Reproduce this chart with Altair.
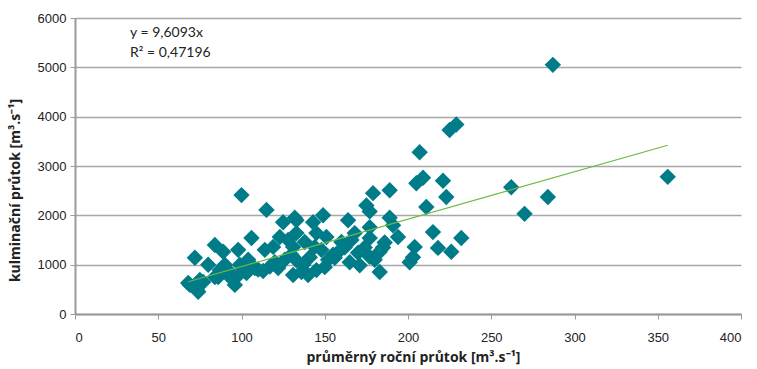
import altair as alt
import pandas as pd

# mean annual discharge [m3/s] and culmination discharge [m3/s]
prumer = [
    287, 229, 225, 207, 356, 262, 284, 270, 221, 209, 205, 223, 211, 215, 232, 218, 226, 204, 203, 201,
    189, 179, 175, 177, 189, 191, 194, 177, 177, 168, 164, 160, 170, 177, 183, 171, 183, 185,
    149, 143, 133, 125, 132, 145, 151, 133, 138, 144, 148, 156, 131, 133, 145, 140, 131,
    100, 115, 106, 84, 72, 98, 114, 119, 123, 128, 89, 108, 117, 122, 87, 84, 93, 68, 75, 73,
    97, 103, 69, 74, 77, 86, 93, 96, 99, 104, 110, 126, 130, 137, 141, 152, 158, 162, 166, 155,
    165, 174, 180, 186, 113, 120, 136, 150, 90, 80,
]
kulminace = [
    5050, 3840, 3730, 3280, 2780, 2570, 2370, 2030, 2700, 2760, 2650, 2370, 2170, 1660, 1540, 1340, 1260, 1360, 1150, 1050,
    2510, 2450, 2200, 2080, 1950, 1800, 1560, 1760, 1540, 1640, 1900, 1460, 1240, 1160, 1260, 990, 850, 1350,
    2000, 1860, 1900, 1860, 1950, 1640, 1560, 1640, 1460, 1360, 1300, 1140, 1360, 1090, 890, 790, 790,
    2410, 2110, 1540, 1400, 1140, 1300, 1300, 1360, 1560, 1500, 1260, 930, 960, 930, 890, 750, 750, 630, 690, 500,
    750, 830, 590, 450, 650, 750, 850, 590, 1000, 1100, 900, 1100, 1200, 1000, 1150, 1100, 1250, 1350, 1500, 1200,
    1050, 1350, 1100, 1450, 870, 1050, 850, 950, 1000, 1000,
]

slope = 9.6093
equation = ["y = 9,6093x", "R² = 0,47196"]

df = pd.DataFrame({"x": prumer, "y": kulminace})
x_lo, x_hi = min(prumer), max(prumer)
trend = pd.DataFrame({"x": [x_lo, x_hi], "y": [slope * x_lo, slope * x_hi]})

teal = "#007C89"
x_title = "průměrný roční průtok [m³.s⁻¹]"
y_title = "kulminační průtok [m³.s⁻¹]"

x_scale = alt.Scale(domain=[0, 400], nice=False)
y_scale = alt.Scale(domain=[0, 6000], nice=False)

x_axis = alt.Axis(
    values=list(range(0, 401, 50)), title=x_title, grid=False, format="d",
    titleFont="Open Sans", titleFontWeight="bold", titleFontSize=14, titleColor="#222222",
    titleX=338, titleY=43, titleBaseline="middle",
    labelFont="Liberation Sans", labelFontSize=13, labelColor="#222222", labelPadding=12,
    domainColor="#9A9A9A", domainWidth=2, tickColor="#9A9A9A", tickSize=5,
)
y_axis = alt.Axis(
    values=list(range(0, 6001, 1000)), title=y_title, format="d",
    gridColor="#A8A8A8", gridWidth=1.5,
    titleFont="Open Sans", titleFontWeight="bold", titleFontSize=14, titleColor="#222222",
    titleX=-60, titleY=172, titleAngle=-90, titleAlign="center", titleBaseline="middle",
    labelFont="Liberation Sans", labelFontSize=13, labelColor="#222222", labelPadding=4,
    domainColor="#9A9A9A", domainWidth=2, tickColor="#9A9A9A", tickSize=5,
)

points = alt.Chart(df).mark_point(
    shape="diamond", filled=True, size=270, color=teal, opacity=1
).encode(
    x=alt.X("x:Q", scale=x_scale, axis=x_axis),
    y=alt.Y("y:Q", scale=y_scale, axis=y_axis),
)

line = alt.Chart(trend).mark_line(color="#6DBA45", strokeWidth=1.2).encode(
    x=alt.X("x:Q", scale=x_scale),
    y=alt.Y("y:Q", scale=y_scale),
)


def eq_label(text, ypos):
    return alt.Chart(pd.DataFrame({"t": [text]})).mark_text(
        align="left", baseline="middle", font="Lato", fontSize=14, color="#222222"
    ).encode(text="t:N", x=alt.value(55), y=alt.value(ypos))


chart = alt.layer(
    points, line, eq_label(equation[0], 15), eq_label(equation[1], 35)
).properties(
    width=666, height=296,
    autosize=alt.AutoSizeParams(type="none"),
    padding={"left": 75, "top": 18, "right": 16, "bottom": 55},
).configure_view(stroke=None)

chart.save("out.html", embed_options={"renderer": "svg", "actions": False})
